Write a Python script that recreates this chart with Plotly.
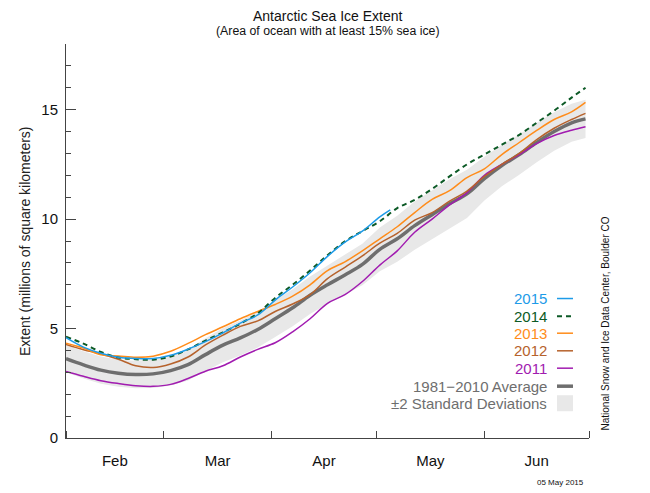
import datetime as dt
import plotly.graph_objects as go

# ---------------- data (millions of km^2), days after 1 Feb ----------------
days = [0, 5, 10, 15, 20, 25, 30, 35, 40, 45, 50, 55, 60, 65, 70, 75, 80, 85,
        90, 95, 100, 105, 110, 115, 120, 125, 130, 135, 140, 145, 149]

avg_1981_2010 = [3.62, 3.34, 3.10, 2.96, 2.90, 2.93, 3.08, 3.35, 3.81, 4.24, 4.57,
                 4.96, 5.45, 5.95, 6.52, 7.00, 7.45, 7.93, 8.62, 9.10, 9.70, 10.20,
                 10.70, 11.15, 11.85, 12.45, 12.95, 13.50, 14.00, 14.40, 14.58]

band_upper = [4.24, 3.96, 3.72, 3.58, 3.53, 3.58, 3.76, 4.07, 4.56, 5.02, 5.37,
              5.78, 6.29, 6.80, 7.38, 7.87, 8.35, 8.88, 9.62, 10.15, 10.80, 11.32,
              11.82, 12.25, 12.85, 13.40, 13.87, 14.40, 14.88, 15.27, 15.45]

band_lower = [3.00, 2.72, 2.48, 2.34, 2.27, 2.28, 2.40, 2.63, 3.06, 3.46, 3.77,
              4.14, 4.61, 5.10, 5.66, 6.13, 6.55, 6.98, 7.62, 8.05, 8.60, 9.08,
              9.58, 10.05, 10.85, 11.50, 12.03, 12.60, 13.12, 13.53, 13.71]

ext_2014 = [4.63, 4.31, 3.93, 3.68, 3.60, 3.58, 3.72, 4.05, 4.45, 4.83, 5.22,
            5.70, 6.40, 7.00, 7.65, 8.35, 8.98, 9.45, 9.90, 10.50, 10.88, 11.38,
            11.95, 12.50, 12.95, 13.40, 13.85, 14.40, 14.95, 15.55, 16.00]

ext_2013 = [4.33, 4.11, 3.80, 3.75, 3.69, 3.74, 3.96, 4.32, 4.72, 5.08, 5.45,
            5.78, 6.10, 6.48, 7.00, 7.65, 8.05, 8.55, 9.10, 9.65, 10.30, 10.90,
            11.30, 11.90, 12.30, 12.95, 13.50, 14.05, 14.55, 14.90, 15.33]

ext_2012 = [4.27, 4.03, 3.84, 3.60, 3.30, 3.22, 3.38, 3.70, 4.25, 4.70, 5.10,
            5.35, 5.78, 6.12, 6.55, 7.28, 7.80, 8.32, 8.90, 9.35, 9.95, 10.30,
            10.82, 11.28, 11.95, 12.50, 13.00, 13.63, 14.15, 14.55, 14.83]

ext_2011 = [3.04, 2.82, 2.62, 2.49, 2.39, 2.36, 2.45, 2.72, 3.05, 3.30, 3.70,
            4.05, 4.35, 4.85, 5.45, 6.15, 6.55, 7.15, 7.90, 8.55, 9.40, 10.00,
            10.65, 11.20, 12.00, 12.50, 12.95, 13.45, 13.82, 14.06, 14.22]

days_2015 = [0, 5, 10, 15, 20, 25, 30, 35, 40, 45, 50, 55, 60, 65, 70, 75, 80,
             85, 90, 93]
ext_2015 = [4.58, 4.15, 3.87, 3.69, 3.63, 3.63, 3.78, 4.06, 4.40, 4.80, 5.25,
            5.62, 6.30, 6.90, 7.55, 8.30, 8.95, 9.45, 10.10, 10.42]

legend_labels = ["2015", "2014", "2013", "2012", "2011",
                 "1981\u22122010 Average", "\u00b12 Standard Deviations"]

# ---------------- helpers ----------------
start = dt.date(2015, 2, 1)


def to_dates(ds):
    return [(start + dt.timedelta(days=d)).isoformat() for d in ds]


x = to_dates(days)
x15 = to_dates(days_2015)

FONT = "Liberation Sans, Arial, Helvetica, sans-serif"
C2015 = "#1d9be8"
C2014 = "#0c5a26"
C2013 = "#ff8c1a"
C2012 = "#b6622c"
C2011 = "#a11bb0"
CAVG = "#6e6e6e"
CBAND = "#e8e8e8"

fig = go.Figure()

# ±2 SD band
fig.add_trace(go.Scatter(x=x, y=band_lower, mode="lines", line=dict(width=0),
                         hoverinfo="skip", showlegend=False))
fig.add_trace(go.Scatter(x=x, y=band_upper, mode="lines", line=dict(width=0),
                         fill="tonexty", fillcolor=CBAND, hoverinfo="skip",
                         showlegend=False))

# average
fig.add_trace(go.Scatter(x=x, y=avg_1981_2010, mode="lines",
                         line=dict(color=CAVG, width=3.5, shape="spline"),
                         showlegend=False))

for ys, col in [(ext_2011, C2011), (ext_2012, C2012), (ext_2013, C2013)]:
    fig.add_trace(go.Scatter(x=x, y=ys, mode="lines",
                             line=dict(color=col, width=1.5, shape="spline"),
                             showlegend=False))

fig.add_trace(go.Scatter(x=x, y=ext_2014, mode="lines",
                         line=dict(color=C2014, width=2, dash="5px,4px",
                                   shape="spline"),
                         showlegend=False))
fig.add_trace(go.Scatter(x=x15, y=ext_2015, mode="lines",
                         line=dict(color=C2015, width=1.5, shape="spline"),
                         showlegend=False))

# ---------------- legend (text left, sample right) ----------------
leg_colors = [C2015, C2014, C2013, C2012, C2011, CAVG, CAVG]
leg_y = [0.354, 0.309, 0.266, 0.2213, 0.1772, 0.1315, 0.0883]
annotations = []
shapes = []
for i, (lab, col, yy) in enumerate(zip(legend_labels, leg_colors, leg_y)):
    annotations.append(dict(text=lab, x=0.9235, y=yy, xref="paper", yref="paper",
                            xanchor="right", yanchor="middle", showarrow=False,
                            font=dict(family=FONT, size=15, color=col)))
    if i < 5:
        dash = "5px,4px" if i == 1 else "solid"
        shapes.append(dict(type="line", xref="paper", yref="paper",
                           x0=0.9388, x1=0.9694, y0=yy, y1=yy,
                           line=dict(color=col, width=2 if i == 1 else 1.5,
                                     dash=dash)))
    elif i == 5:
        shapes.append(dict(type="line", xref="paper", yref="paper",
                           x0=0.9388, x1=0.9694, y0=yy, y1=yy,
                           line=dict(color=col, width=3.5)))
    else:
        shapes.append(dict(type="rect", xref="paper", yref="paper",
                           x0=0.9388, x1=0.9694, y0=yy - 0.0203, y1=yy + 0.0203,
                           fillcolor=CBAND, line=dict(width=0)))

# titles and notes
annotations += [
    dict(text="Antarctic Sea Ice Extent", x=0.5, y=1.071, xref="paper",
         yref="paper", xanchor="center", yanchor="middle", showarrow=False,
         font=dict(family=FONT, size=14, color="#111")),
    dict(text="(Area of ocean with at least 15% sea ice)", x=0.5, y=1.0335,
         xref="paper", yref="paper", xanchor="center", yanchor="middle",
         showarrow=False, font=dict(family=FONT, size=12.3, color="#111")),
    dict(text="Extent (millions of square kilometers)", x=-0.0784, y=0.5,
         xref="paper", yref="paper", xanchor="center", yanchor="middle",
         textangle=-90, showarrow=False,
         font=dict(family=FONT, size=14, color="#222")),
    dict(text="National Snow and Ice Data Center, Boulder CO", x=1.0306,
         y=0.2906, xref="paper", yref="paper", xanchor="center",
         yanchor="middle", textangle=-90, showarrow=False,
         font=dict(family=FONT, size=10, color="#111")),
    dict(text="05 May 2015", x=0.9945, y=-0.113, xref="paper", yref="paper",
         xanchor="right", yanchor="middle", showarrow=False,
         font=dict(family=FONT, size=8, color="#111")),
]

# The page body has an 8px default margin, so the figure is 8px smaller
# than the window and the plot area lands where the reference has it.
fig.update_layout(
    width=642, height=485,
    margin=dict(l=58, r=61, t=36, b=55),
    paper_bgcolor="white", plot_bgcolor="white",
    font=dict(family=FONT, color="#222"),
    showlegend=False,
    annotations=annotations,
    shapes=shapes,
    xaxis=dict(
        type="date",
        range=["2015-02-01", "2015-07-01"],
        tick0="2015-02-01", dtick="M1",
        ticklabelmode="period", tickformat="%b",
        ticks="inside", ticklen=7, tickcolor="#444", tickwidth=1,
        showline=True, linecolor="#444", linewidth=1,
        showgrid=False, zeroline=False,
        tickfont=dict(family=FONT, size=15, color="#111"),
        ticklabelstandoff=9,
    ),
    yaxis=dict(
        range=[0, 18], tickvals=[0, 5, 10, 15],
        ticks="inside", ticklen=10, tickcolor="#444", tickwidth=1,
        minor=dict(dtick=1, ticks="inside", ticklen=5, tickcolor="#444"),
        showline=True, linecolor="#444", linewidth=1,
        showgrid=False, zeroline=False,
        tickfont=dict(family=FONT, size=15, color="#111"),
        ticklabelstandoff=4,
    ),
)

fig.write_html("out.html", config={"displayModeBar": False})
